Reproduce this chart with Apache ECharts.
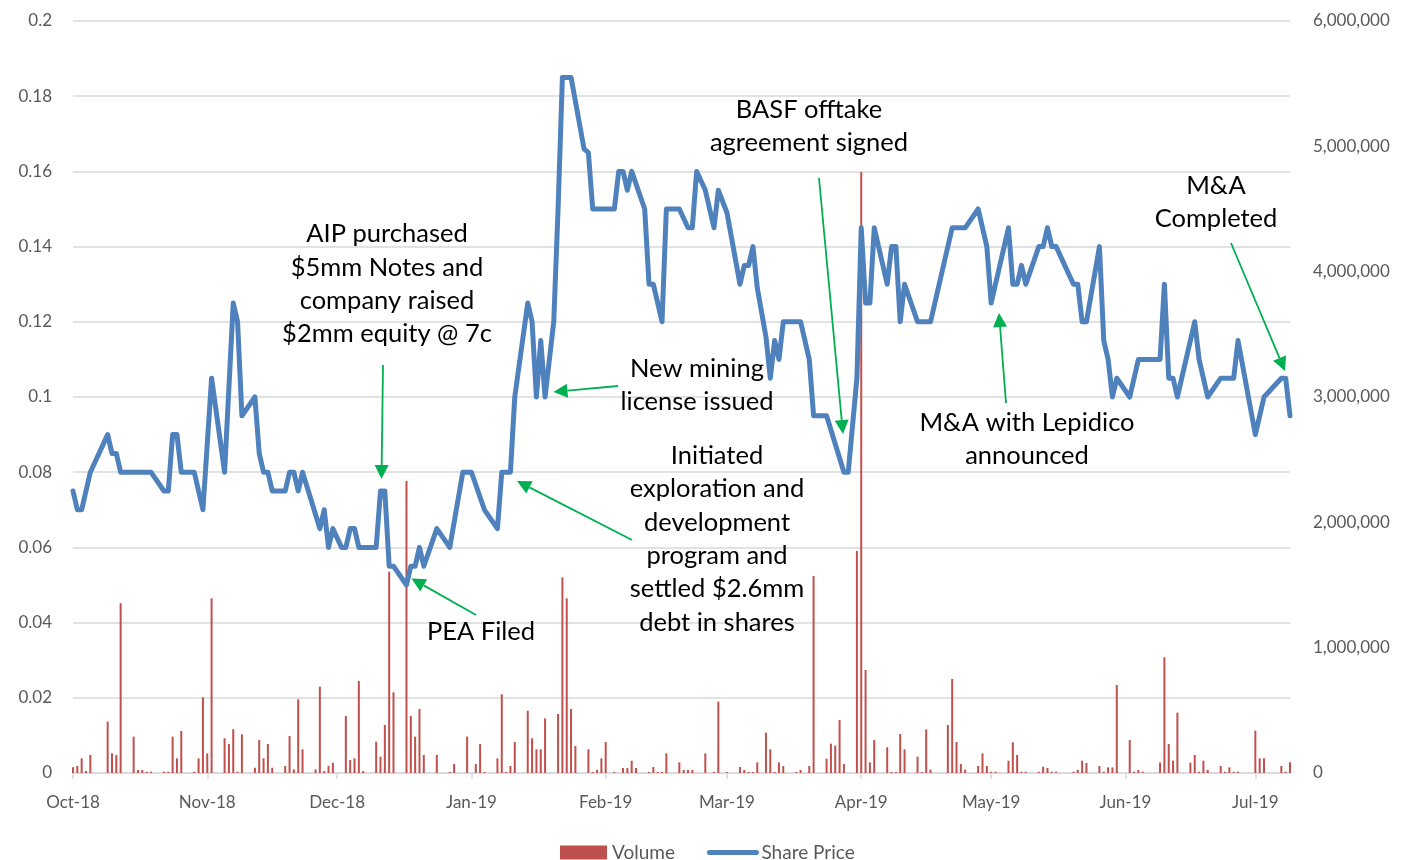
<!DOCTYPE html>
<html><head><meta charset="utf-8">
<script src="https://cdn.jsdelivr.net/npm/echarts@6/dist/echarts.min.js"></script>
<style>html,body{margin:0;padding:0;background:#fff}#c{width:1403px;height:860px}</style>
</head><body><div id="c"></div>
<script>
// ---------- DATA ----------
const firstDay = '2018-10-01';
const lastDay = '2019-07-09';
const monthNames = ['Jan','Feb','Mar','Apr','May','Jun','Jul','Aug','Sep','Oct','Nov','Dec'];

const priceDates = [
'2018-10-01','2018-10-02','2018-10-03','2018-10-04','2018-10-05','2018-10-09','2018-10-10','2018-10-11','2018-10-12','2018-10-19',
'2018-10-22','2018-10-23','2018-10-24','2018-10-25','2018-10-26','2018-10-29','2018-10-31','2018-11-02','2018-11-05','2018-11-07',
'2018-11-08','2018-11-09','2018-11-12','2018-11-13','2018-11-14','2018-11-15','2018-11-16','2018-11-19','2018-11-20','2018-11-21',
'2018-11-22','2018-11-23','2018-11-27','2018-11-28','2018-11-29','2018-11-30','2018-12-02','2018-12-03','2018-12-04','2018-12-05',
'2018-12-06','2018-12-10','2018-12-11','2018-12-12','2018-12-13','2018-12-14','2018-12-17','2018-12-18','2018-12-19','2018-12-20',
'2018-12-21','2018-12-24','2018-12-27','2018-12-30','2019-01-01','2019-01-04','2019-01-07','2019-01-08','2019-01-10','2019-01-11',
'2019-01-14','2019-01-15','2019-01-16','2019-01-17','2019-01-18','2019-01-20','2019-01-21','2019-01-22','2019-01-24','2019-01-27',
'2019-01-28','2019-01-29','2019-02-03','2019-02-04','2019-02-05','2019-02-06','2019-02-07','2019-02-10','2019-02-11','2019-02-12',
'2019-02-14','2019-02-15','2019-02-18','2019-02-20','2019-02-21','2019-02-22','2019-02-24','2019-02-26','2019-02-27','2019-03-01',
'2019-03-04','2019-03-05','2019-03-06','2019-03-07','2019-03-08','2019-03-10','2019-03-11','2019-03-12','2019-03-13','2019-03-14',
'2019-03-18','2019-03-20','2019-03-21','2019-03-24','2019-03-28','2019-03-29','2019-03-31','2019-04-01','2019-04-02','2019-04-03',
'2019-04-04','2019-04-07','2019-04-08','2019-04-09','2019-04-10','2019-04-11','2019-04-14','2019-04-17','2019-04-22','2019-04-25',
'2019-04-28','2019-04-30','2019-05-01','2019-05-05','2019-05-06','2019-05-07','2019-05-08','2019-05-09','2019-05-12','2019-05-13',
'2019-05-14','2019-05-15','2019-05-16','2019-05-20','2019-05-21','2019-05-22','2019-05-23','2019-05-26','2019-05-27','2019-05-28',
'2019-05-29','2019-05-30','2019-06-02','2019-06-04','2019-06-09','2019-06-10','2019-06-11','2019-06-12','2019-06-13','2019-06-15',
'2019-06-17','2019-06-18','2019-06-20','2019-06-23','2019-06-26','2019-06-27','2019-07-01','2019-07-03','2019-07-07','2019-07-08',
'2019-07-09'];
const priceValues = [
0.075,0.07,0.07,0.075,0.08,0.09,0.085,0.085,0.08,0.08,
0.075,0.075,0.09,0.09,0.08,0.08,0.07,0.105,0.08,0.125,
0.12,0.095,0.10,0.085,0.08,0.08,0.075,0.075,0.08,0.08,
0.075,0.08,0.065,0.07,0.06,0.065,0.06,0.06,0.065,0.065,
0.06,0.06,0.075,0.075,0.055,0.055,0.05,0.055,0.055,0.06,
0.055,0.065,0.06,0.08,0.08,0.07,0.065,0.08,0.08,0.10,
0.125,0.12,0.10,0.115,0.10,0.12,0.15,0.185,0.185,0.166,
0.165,0.15,0.15,0.16,0.16,0.155,0.16,0.15,0.13,0.13,
0.12,0.15,0.15,0.145,0.145,0.16,0.155,0.145,0.155,0.149,
0.13,0.135,0.135,0.14,0.129,0.116,0.105,0.115,0.11,0.12,
0.12,0.11,0.095,0.095,0.08,0.08,0.105,0.145,0.125,0.125,
0.145,0.13,0.14,0.14,0.12,0.13,0.12,0.12,0.145,0.145,
0.15,0.14,0.125,0.145,0.13,0.13,0.135,0.13,0.14,0.14,
0.145,0.14,0.14,0.13,0.13,0.12,0.12,0.14,0.115,0.11,
0.10,0.105,0.10,0.11,0.11,0.13,0.105,0.105,0.10,0.11,
0.12,0.11,0.10,0.105,0.105,0.115,0.09,0.10,0.105,0.105,
0.095];

const volumeDates = [
'2018-10-01','2018-10-02','2018-10-03','2018-10-04','2018-10-05','2018-10-09','2018-10-10','2018-10-11','2018-10-12','2018-10-15',
'2018-10-16','2018-10-17','2018-10-18','2018-10-19','2018-10-22','2018-10-23','2018-10-24','2018-10-25','2018-10-26','2018-10-29',
'2018-10-30','2018-10-31','2018-11-01','2018-11-02','2018-11-05','2018-11-06','2018-11-07','2018-11-08','2018-11-09','2018-11-12',
'2018-11-13','2018-11-14','2018-11-15','2018-11-16','2018-11-19','2018-11-20','2018-11-21','2018-11-22','2018-11-23','2018-11-26',
'2018-11-27','2018-11-28','2018-11-29','2018-11-30','2018-12-03','2018-12-04','2018-12-05','2018-12-06','2018-12-07','2018-12-10',
'2018-12-11','2018-12-12','2018-12-13','2018-12-14','2018-12-17','2018-12-18','2018-12-19','2018-12-20','2018-12-21','2018-12-24',
'2018-12-27','2018-12-28','2018-12-31','2019-01-02','2019-01-03','2019-01-04','2019-01-07','2019-01-08','2019-01-09','2019-01-10',
'2019-01-11','2019-01-14','2019-01-15','2019-01-16','2019-01-17','2019-01-18','2019-01-21','2019-01-22','2019-01-23','2019-01-24',
'2019-01-25','2019-01-28','2019-01-29','2019-01-30','2019-01-31','2019-02-01','2019-02-03','2019-02-05','2019-02-06','2019-02-07',
'2019-02-08','2019-02-11','2019-02-12','2019-02-13','2019-02-14','2019-02-15','2019-02-18','2019-02-19','2019-02-20','2019-02-21',
'2019-02-24','2019-02-26','2019-02-27','2019-03-01','2019-03-04','2019-03-05','2019-03-06','2019-03-07','2019-03-08','2019-03-10',
'2019-03-11','2019-03-12','2019-03-13','2019-03-14','2019-03-17','2019-03-18','2019-03-20','2019-03-21','2019-03-24','2019-03-25',
'2019-03-26','2019-03-27','2019-03-28','2019-03-31','2019-04-01','2019-04-02','2019-04-03','2019-04-04','2019-04-07','2019-04-08',
'2019-04-09','2019-04-10','2019-04-11','2019-04-14','2019-04-15','2019-04-16','2019-04-17','2019-04-21','2019-04-22','2019-04-23',
'2019-04-24','2019-04-25','2019-04-28','2019-04-29','2019-04-30','2019-05-01','2019-05-02','2019-05-05','2019-05-06','2019-05-07',
'2019-05-08','2019-05-09','2019-05-12','2019-05-13','2019-05-14','2019-05-15','2019-05-16','2019-05-20','2019-05-21','2019-05-22',
'2019-05-23','2019-05-26','2019-05-27','2019-05-28','2019-05-29','2019-05-30','2019-06-02','2019-06-03','2019-06-04','2019-06-05',
'2019-06-09','2019-06-10','2019-06-11','2019-06-12','2019-06-13','2019-06-16','2019-06-17','2019-06-18','2019-06-19','2019-06-20',
'2019-06-23','2019-06-24','2019-06-25','2019-06-26','2019-06-27','2019-07-01','2019-07-02','2019-07-03','2019-07-07','2019-07-08',
'2019-07-09'];
const volumeValues = [
45000,56000,117000,16000,144000,410000,157000,144000,1354000,290000,
24000,24000,10000,10000,10000,10000,290000,117000,335000,10000,
117000,604000,157000,1394000,277000,231000,349000,10000,309000,42000,
263000,117000,231000,42000,56000,295000,29000,588000,189000,29000,
689000,16000,56000,82000,455000,104000,117000,734000,16000,250000,
130000,383000,1606000,644000,2330000,455000,290000,511000,144000,144000,
8000,72000,290000,72000,231000,8000,117000,628000,8000,56000,
247000,497000,277000,189000,189000,436000,471000,1561000,1394000,511000,
215000,189000,8000,25000,117000,247000,8000,40000,40000,98000,
40000,8000,48000,8000,8000,157000,85000,24000,24000,24000,
157000,8000,569000,8000,48000,24000,8000,8000,85000,322000,
189000,8000,85000,56000,8000,24000,56000,1572000,114000,234000,
218000,423000,72000,1771000,4795000,822000,85000,263000,205000,8000,
8000,311000,189000,130000,8000,349000,27000,383000,750000,247000,
72000,27000,56000,157000,56000,10000,10000,98000,245000,144000,
10000,10000,10000,50000,40000,10000,10000,10000,24000,98000,
80000,56000,10000,45000,45000,702000,263000,10000,24000,10000,
85000,923000,231000,98000,481000,82000,144000,10000,98000,24000,
56000,10000,45000,10000,10000,338000,117000,117000,56000,10000,
85000];

const annotations = [
  {text: 'AIP purchased\n$5mm Notes and\ncompany raised\n$2mm equity @ 7c', x: 387, y: 284},
  {text: 'PEA Filed', x: 481, y: 632},
  {text: 'New mining\nlicense issued', x: 697, y: 385.5},
  {text: 'Initiated\nexploration and\ndevelopment\nprogram and\nsettled $2.6mm\ndebt in shares', x: 717, y: 539},
  {text: 'BASF offtake\nagreement signed', x: 809, y: 126.5},
  {text: 'M&A with Lepidico\nannounced', x: 1027, y: 439.5},
  {text: 'M&A\nCompleted', x: 1216, y: 202.5}
];
const arrows = [
  [383, 365, 381.5, 479],
  [476, 615, 411.5, 578.5],
  [618, 386, 553.5, 392],
  [632, 540, 517, 481],
  [819, 178, 843, 434],
  [1006, 403, 999, 313],
  [1231, 243, 1285, 371]
];

// ---------- BUILD ----------
const categories = [];
for (let t = Date.parse(firstDay); t <= Date.parse(lastDay); t += 86400000) {
  categories.push(new Date(t).toISOString().slice(0, 10));
}
const pos = {};
categories.forEach((d, i) => { pos[d] = i; });
const priceSeries = categories.map(() => null);
priceDates.forEach((d, i) => { priceSeries[pos[d]] = priceValues[i]; });
const volumeSeries = categories.map(() => null);
volumeDates.forEach((d, i) => { volumeSeries[pos[d]] = volumeValues[i]; });

const isMonthStart = (i, v) => v.slice(8) === '01';
const fmtMonth = v => monthNames[+v.slice(5, 7) - 1] + '-' + v.slice(2, 4);

const GREEN = '#00B050';
const graphics = [];
annotations.forEach(a => {
  graphics.push({
    type: 'text', z: 100,
    style: {
      text: a.text, x: a.x, y: a.y, align: 'center', verticalAlign: 'middle',
      font: '25.5px Lato', fill: '#000', lineHeight: 33.4
    }
  });
});
arrows.forEach(([x1, y1, x2, y2]) => {
  const dx = x2 - x1, dy = y2 - y1, L = Math.hypot(dx, dy);
  const ux = dx / L, uy = dy / L, hl = 14, hw = 7;
  const bx = x2 - ux * hl, by = y2 - uy * hl;
  graphics.push({
    type: 'line', z: 100,
    shape: {x1: x1, y1: y1, x2: bx, y2: by},
    style: {stroke: GREEN, lineWidth: 1.8}
  });
  graphics.push({
    type: 'polygon', z: 100,
    shape: {points: [[x2, y2], [bx - uy * hw, by + ux * hw], [bx + uy * hw, by - ux * hw]]},
    style: {fill: GREEN}
  });
});

const chart = echarts.init(document.getElementById('c'), null, {renderer: 'canvas'});
chart.setOption({
  animation: false,
  backgroundColor: '#fff',
  textStyle: {fontFamily: 'Lato'},
  grid: {left: 73, right: 113, top: 21, bottom: 87, containLabel: false},
  legend: {
    left: 555, top: 838, itemWidth: 47, itemHeight: 14, itemGap: 32, padding: 5,
    textStyle: {color: '#595959', fontSize: 19, fontFamily: 'Lato'},
    data: [
      {name: 'Volume', icon: 'rect'},
      {name: 'Share Price', itemStyle: {opacity: 0}, lineStyle: {width: 5, color: '#4F81BD', cap: 'round'}}
    ]
  },
  xAxis: {
    type: 'category', data: categories, boundaryGap: false,
    axisLine: {lineStyle: {color: '#D9D9D9', width: 1.5}},
    axisTick: {show: true, interval: isMonthStart, length: 6, lineStyle: {color: '#D9D9D9', width: 1.5}},
    axisLabel: {interval: isMonthStart, formatter: fmtMonth, color: '#595959', fontSize: 17, margin: 21, fontFamily: 'Lato'},
    splitLine: {show: false}
  },
  yAxis: [
    {
      type: 'value', min: 0, max: 0.2, interval: 0.02,
      axisLine: {show: false}, axisTick: {show: false},
      axisLabel: {color: '#595959', fontSize: 17, margin: 21, fontFamily: 'Lato',
        formatter: v => String(+v.toFixed(2))},
      splitLine: {lineStyle: {color: '#D9D9D9', width: 1.5}}
    },
    {
      type: 'value', min: 0, max: 6000000, interval: 1000000,
      axisLine: {show: false}, axisTick: {show: false},
      axisLabel: {color: '#595959', fontSize: 17, margin: 23, fontFamily: 'Lato',
        formatter: v => Math.round(v).toLocaleString('en-US')},
      splitLine: {show: false}
    }
  ],
  series: [
    {
      name: 'Volume', type: 'bar', yAxisIndex: 1, data: volumeSeries,
      barWidth: 2, itemStyle: {color: '#C0504D'}, z: 2
    },
    {
      name: 'Share Price', type: 'line', yAxisIndex: 0, data: priceSeries,
      connectNulls: true, showSymbol: false, symbol: 'none', z: 3,
      itemStyle: {color: '#4F81BD'},
      lineStyle: {color: '#4F81BD', width: 5, join: 'round', cap: 'round'}
    }
  ],
  graphic: graphics
});
</script></body></html>
